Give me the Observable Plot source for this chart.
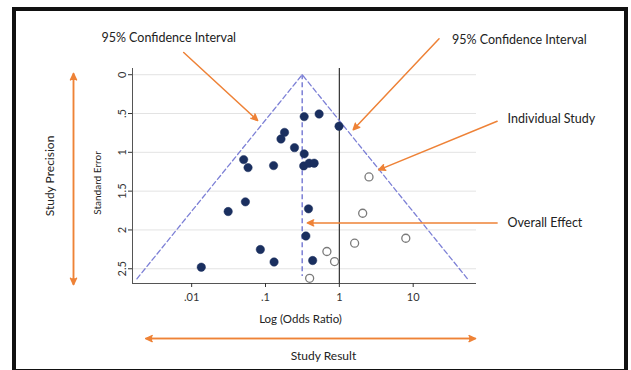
<!DOCTYPE html>
<html>
<head>
<meta charset="utf-8">
<script src="https://cdn.jsdelivr.net/npm/d3@7"></script>
<script src="https://cdn.jsdelivr.net/npm/@observablehq/plot@0.6"></script>
<style>
  html, body { margin: 0; padding: 0; background: #fff; }
  #chart { position: relative; width: 631px; height: 370px; overflow: hidden; background: #fff; }
  #chart svg { position: absolute; left: 0; top: 0; }
  #border { position: absolute; left: 12px; top: 7px; width: 608px; height: 358px; border: 4px solid #111; }
</style>
</head>
<body>
<div id="chart"><div id="border"></div></div>
<script>
// Observed studies: odds ratio and its standard error (log scale)
const studyOR = [0.334, 0.532, 0.99, 0.181, 0.162, 0.247, 0.334, 0.329, 0.39, 0.456,
                 0.0506, 0.058, 0.1286, 0.0534, 0.0312, 0.382, 0.352, 0.0851, 0.1306, 0.435, 0.0135];
const studySE = [0.54, 0.506, 0.665, 0.743, 0.828, 0.94, 1.02, 1.175, 1.14, 1.14,
                 1.094, 1.197, 1.171, 1.638, 1.763, 1.728, 2.078, 2.252, 2.413, 2.394, 2.48];

// Filled-in (imputed) studies, drawn as hollow circles
const imputedOR = [2.52, 2.07, 7.94, 1.61, 0.678, 0.861, 0.396];
const imputedSE = [1.317, 1.785, 2.107, 2.171, 2.278, 2.407, 2.623];

// Pooled estimate and the depth of the 95% pseudo-confidence funnel
const pooledOR = 0.314;
const funnelSE = [2.63, 0, 2.63];
const funnelSide = [-1, 0, 1];
const pooledLineSE = [0, 2.6];

// Axis ticks
const orTicks = [0.01, 0.1, 1, 10];
const orTickLabels = [".01", ".1", "1", "10"];
const seTicks = [0, 0.5, 1, 1.5, 2, 2.5];
const seTickLabels = ["0", ".5", "1", "1.5", "2", "2.5"];

// Callout labels (odds ratio, standard error): two centred titles, two left-aligned notes
const titleText = ["95% Confidence Interval", "95% Confidence Interval"];
const titleOR = [0.00489, 274];
const titleSE = [-0.476, -0.441];
const noteText = ["Individual Study", "Overall Effect"];
const noteOR = [190, 190];
const noteSE = [0.568, 1.909];

// Callout arrows
const arrowFromOR = [0.0078, 22.4, 137, 137];
const arrowFromSE = [-0.286, -0.463, 0.599, 1.909];
const arrowToOR = [0.0782, 1.54, 3.42, 0.368];
const arrowToSE = [0.59, 0.71, 1.226, 1.909];

// Double-headed guides outside the plot frame
const precisionOR = 0.000251, precisionSE = [-0.015, 2.704];
const resultSE = 3.40, resultOR = [0.00239, 69.7];

const orange = "#EE8237";
const navy = "#1a2f5f";
const funnelColor = "#7d80d6";
const ink = "#222";

const studies = studyOR.map((or, i) => ({or, se: studySE[i]}));
const imputed = imputedOR.map((or, i) => ({or, se: imputedSE[i]}));
const funnel = funnelSE.map((se, i) => ({se, or: pooledOR * Math.exp(funnelSide[i] * 1.96 * se)}));
const titles = titleText.map((text, i) => ({text, or: titleOR[i], se: titleSE[i]}));
const notes = noteText.map((text, i) => ({text, or: noteOR[i], se: noteSE[i]}));
const arrows = arrowFromOR.map((or, i) => ({x1: or, y1: arrowFromSE[i], x2: arrowToOR[i], y2: arrowToSE[i]}));
const guides = [
  {x1: precisionOR, y1: precisionSE[1], x2: precisionOR, y2: precisionSE[0]},
  {x1: precisionOR, y1: precisionSE[0], x2: precisionOR, y2: precisionSE[1]},
  {x1: resultOR[1], y1: resultSE, x2: resultOR[0], y2: resultSE},
  {x1: resultOR[0], y1: resultSE, x2: resultOR[1], y2: resultSE}
];

const xDomain = [0.00158, 72];
const yDomain = [-0.08, 2.69];

const chart = Plot.plot({
  width: 631,
  height: 370,
  marginLeft: 132,
  marginRight: 155,
  marginTop: 68,
  marginBottom: 87,
  style: {fontFamily: "Lato, 'Open Sans', sans-serif", fontSize: "11px", color: "#333", background: "transparent", overflow: "visible"},
  x: {type: "log", domain: xDomain},
  y: {domain: yDomain, reverse: true},
  marks: [
    Plot.gridY(seTicks, {stroke: "#e3e3e3", strokeOpacity: 1}),
    Plot.ruleX([xDomain[0]], {stroke: "#555", strokeWidth: 1}),
    Plot.ruleY([yDomain[1]], {stroke: "#555", strokeWidth: 1}),
    Plot.ruleX([1], {stroke: "#333", strokeWidth: 1.2}),
    Plot.line(funnel, {x: "or", y: "se", stroke: funnelColor, strokeWidth: 1.3, strokeDasharray: "5,3"}),
    Plot.ruleX([pooledOR], {y1: pooledLineSE[0], y2: pooledLineSE[1], stroke: funnelColor, strokeWidth: 1.5, strokeDasharray: "5,3"}),
    Plot.dot(imputed, {x: "or", y: "se", r: 4, fill: "#fff", stroke: "#7a7a7a", strokeWidth: 1.3}),
    Plot.dot(studies, {x: "or", y: "se", r: 4.2, fill: navy, stroke: navy, strokeWidth: 0.5}),
    Plot.axisX({ticks: orTicks, tickSize: 4, tickPadding: 6, label: null, fontSize: 11,
                tickFormat: d => orTickLabels[orTicks.indexOf(d)]}),
    Plot.axisY({ticks: seTicks, tickSize: 4, tickPadding: 3, label: null, fontSize: 11, tickRotate: -90,
                tickFormat: d => seTickLabels[seTicks.indexOf(d)]}),
    Plot.text(["Log (Odds Ratio)"], {frameAnchor: "bottom", textAnchor: "middle", lineAnchor: "middle", dx: -4, dy: 36, fontSize: 11.5, fill: ink}),
    Plot.text(["Standard Error"], {frameAnchor: "left", textAnchor: "middle", lineAnchor: "middle", dx: -35, dy: 7, rotate: -90, fontSize: 10, fill: ink}),
    Plot.text(["Study Precision"], {frameAnchor: "left", textAnchor: "middle", lineAnchor: "middle", dx: -82, rotate: -90, fontSize: 12, fill: ink}),
    Plot.text(["Study Result"], {frameAnchor: "bottom", textAnchor: "middle", lineAnchor: "middle", dx: 19, dy: 73, fontSize: 12, fill: ink}),
    Plot.text(titles, {x: "or", y: "se", text: "text", textAnchor: "middle", lineAnchor: "middle", fontSize: 12.5, fill: ink}),
    Plot.text(notes, {x: "or", y: "se", text: "text", textAnchor: "start", lineAnchor: "middle", fontSize: 12.5, fill: ink}),
    Plot.arrow(arrows, {x1: "x1", y1: "y1", x2: "x2", y2: "y2", stroke: orange, fill: orange, strokeWidth: 1.5, headLength: 7, headAngle: 50}),
    Plot.arrow(guides, {x1: "x1", y1: "y1", x2: "x2", y2: "y2", stroke: orange, fill: orange, strokeWidth: 1.5, headLength: 7, headAngle: 50})
  ]
});

document.getElementById("chart").prepend(chart);
</script>
</body>
</html>
